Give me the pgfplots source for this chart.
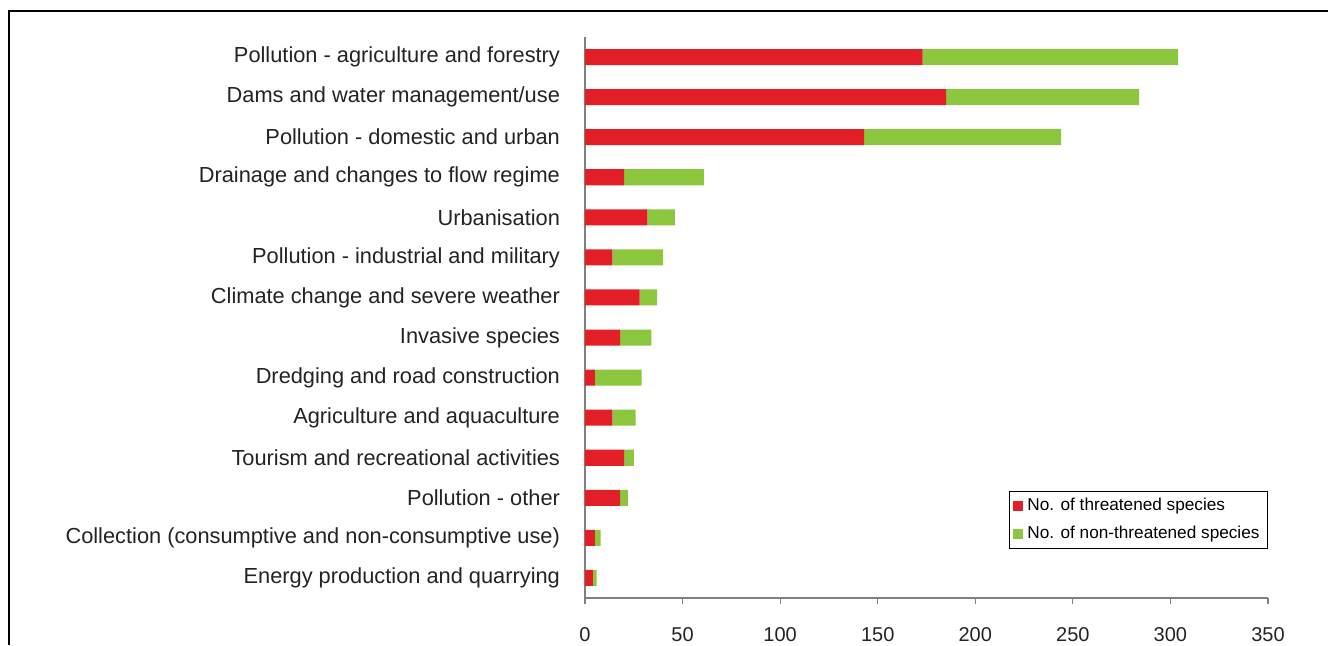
\documentclass[border=0pt]{standalone}
\usepackage{pgfplots}
\pgfplotsset{compat=1.18}
\usepackage{fontspec}
\setmainfont{Liberation Sans}
\definecolor{thr}{RGB}{226,30,38}
\definecolor{nthr}{RGB}{140,198,63}
\definecolor{axgray}{RGB}{128,128,128}
\definecolor{txt}{RGB}{35,35,35}
\begin{document}
\begin{tikzpicture}
\path[use as bounding box] (0,0) rectangle (664pt,322.5pt);
\draw[line width=1pt] (4.5pt,0) -- (4.5pt,317pt) -- (664pt,317pt);
\begin{axis}[
  at={(292.5pt,23.5pt)}, anchor=south west,
  scale only axis, width=341.5pt, height=280.5pt,
  xbar stacked, bar width=0.4,
  xmin=0, xmax=350, ymin=-0.5, ymax=13.5,
  axis x line*=bottom, axis y line*=left,
  axis line style={axgray, line width=0.8pt},
  xtick={0,50,...,350},
  ytick={0,...,13},
  yticklabels={Energy production and quarrying,
    Collection (consumptive and non-consumptive use),
    Pollution - other,
    Tourism and recreational activities,
    Agriculture and aquaculture,
    Dredging and road construction,
    Invasive species,
    Climate change and severe weather,
    Pollution - industrial and military,
    Urbanisation,
    Drainage and changes to flow regime,
    Pollution - domestic and urban,
    Dams and water management/use,
    Pollution - agriculture and forestry},
  minor ytick={-0.5,0.5,...,13.5},
  tick align=outside,
  major tick length=3pt, minor tick length=3pt,
  ytick style={draw=none},
  minor tick style={axgray, line width=0.6pt},
  xtick style={axgray, line width=0.6pt},
  yticklabel style={font=\fontsize{10.9}{12}\selectfont, text=txt, xshift=-6pt},
  xticklabel style={font=\fontsize{10}{12}\selectfont, text=txt, yshift=-8pt},
  /pgf/number format/assume math mode=true,
  legend style={at={(1,0.1907)}, anchor=north east,
    font=\fontsize{8.6}{9.5}\selectfont, draw=black, line width=0.5pt,
    inner xsep=2pt, inner ysep=1.5pt, row sep=2pt, cells={anchor=west}},
  legend image code/.code={\fill[#1] (0pt,-2.5pt) rectangle (5pt,2.5pt);},
  legend cell align=left,
]
\addplot[fill=thr, draw=none] coordinates {
  (4,0) (5,1) (18,2) (20,3) (14,4) (5,5) (18,6) (28,7) (14,8) (32,9) (20,10) (143,11) (185,12) (173,13)};
\addlegendentry{No. of threatened species}
\addplot[fill=nthr, draw=none] coordinates {
  (2,0) (3,1) (4,2) (5,3) (12,4) (24,5) (16,6) (9,7) (26,8) (14,9) (41,10) (101,11) (99,12) (131,13)};
\addlegendentry{No. of non-threatened species}
\end{axis}
\end{tikzpicture}
\end{document}
